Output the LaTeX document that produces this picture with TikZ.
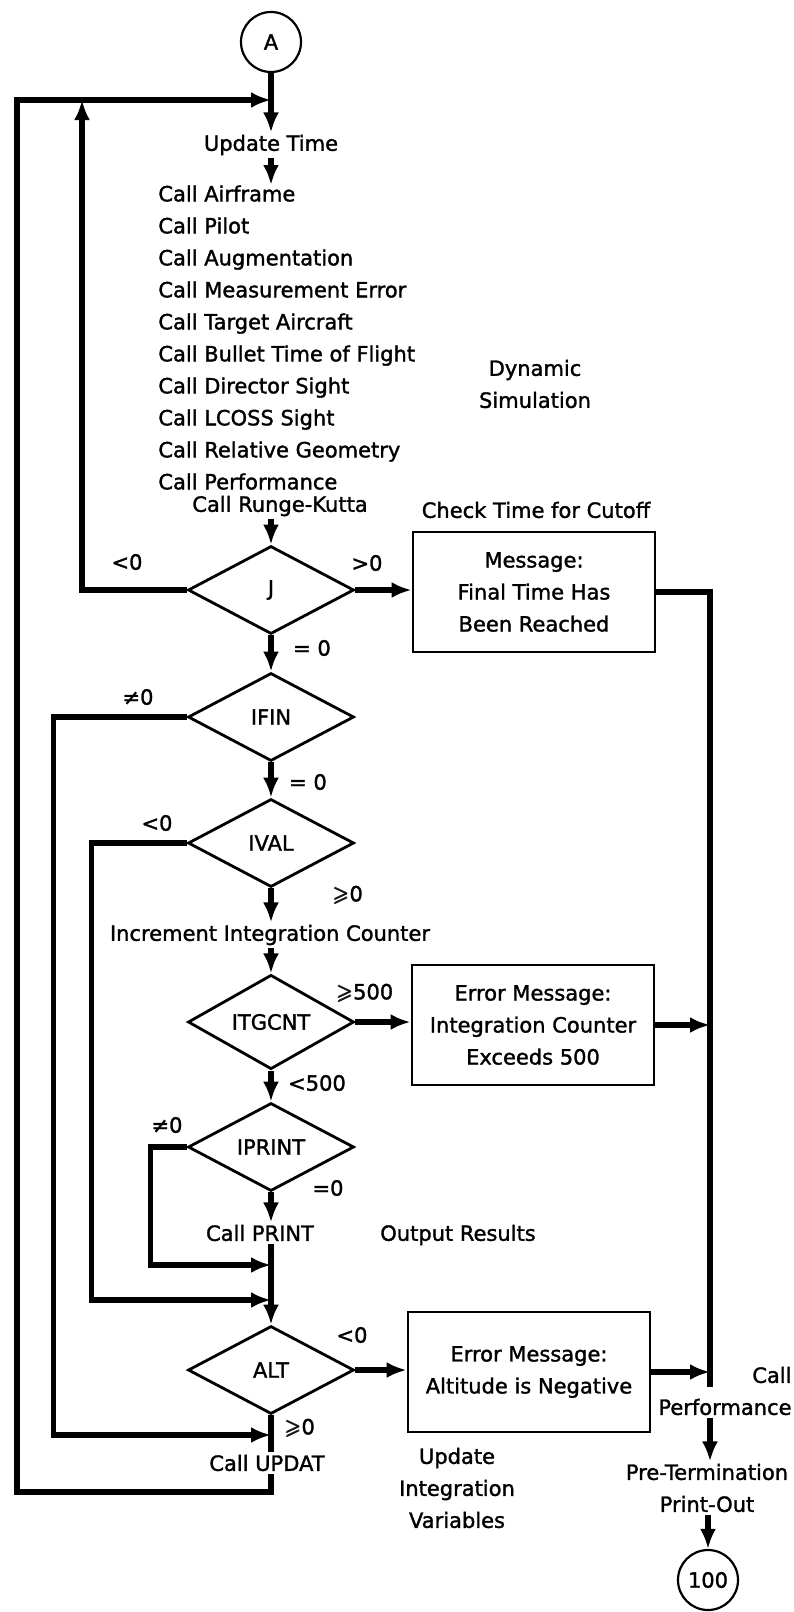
\documentclass[tikz,border=0pt]{standalone}
\usepackage{fontspec}
\setmainfont{DejaVu Sans}[UprightFeatures={FakeBold=1.5}]
\usepackage{amssymb}
\usepackage{amsmath}
\usetikzlibrary{shapes.geometric,arrows.meta}
\tikzset{>={Latex[length=10pt,width=8pt]}}
\newcommand{\gsl}{\ensuremath{\pmb{\geqslant}}}

\begin{document}
\begin{tikzpicture}[x=0.5pt,y=-0.5pt,font=\fontsize{10.5}{16}\selectfont]
\useasboundingbox (0,0) rectangle (793,1612);

\coordinate (loopin) at (271,100);
\coordinate (tl) at (82,100);
\coordinate (bl) at (17,1492);
\coordinate (bus) at (710,1387);
\coordinate (m1) at (271,1265);
\coordinate (m2) at (271,1300);
\coordinate (m3) at (271,1435);

\begin{scope}[every node/.style={circle,draw,line width=1.1pt,minimum size=30pt,inner sep=0pt}]
\node (A) at (271,42) {A};
\node (n100) at (708,1580) {100};
\end{scope}

\begin{scope}[every node/.style={diamond,draw,line width=1.4pt,minimum width=83pt,minimum height=44pt,inner sep=0pt}]
\node (J) at (271,590) {J};
\node (IFIN) at (271,717) {IFIN};
\node (IVAL) at (271,843) {IVAL};
\node (ITGCNT) at (271,1022) {ITGCNT};
\node (IPRINT) at (271,1147) {IPRINT};
\node (ALT) at (271,1370) {ALT};
\end{scope}

\begin{scope}[every node/.style={draw,line width=1.4pt,minimum width=121pt,minimum height=60pt,align=center}]
\node (box1) at (534,592) {Message:\\Final Time Has\\Been Reached};
\node (box2) at (533,1025) {Error Message:\\Integration Counter\\Exceeds 500};
\node (box3) at (529,1372) {Error Message:\\Altitude is Negative};
\end{scope}

\begin{scope}[every node/.style={inner sep=1pt,align=center}]
\node (upd) at (271,145) {Update Time};
\node [anchor=north west,align=left,inner sep=0pt] (calls) at (158,185)
  {Call Airframe\\Call Pilot\\Call Augmentation\\Call Measurement Error\\
   Call Target Aircraft\\Call Bullet Time of Flight\\Call Director Sight\\
   Call LCOSS Sight\\Call Relative Geometry\\Call Performance};
\node (rk) at (280,506) {Call Runge-Kutta};
\node (dyn) at (535,384) {Dynamic\\Simulation};
\node (cutoff) at (536,510) {Check Time for Cutoff};
\node (inc) at (270,935) {Increment Integration Counter};
\node (print) at (260,1233) {Call PRINT};
\node (out) at (458,1235) {Output Results};
\node (updat) at (267,1463) {Call UPDAT};
\node (upint) at (457,1488) {Update\\Integration\\Variables};
\node [align=right] (perf) at (725,1391) {Call\\Performance};
\node (pre) at (707,1488) {Pre-Termination\\Print-Out};
\end{scope}

% branch values
\begin{scope}[every node/.style={inner sep=0pt}]
\node (jlt) at (127,562) {<0};
\node (jgt) at (367,563) {>0};
\node (jeq) at (312,648) {= 0};
\node (ifne) at (138,697) {≠0};
\node (ifeq) at (308,782) {= 0};
\node (ivlt) at (157,823) {<0};
\node (ivge) at (348,895) {\gsl0};
\node (itge) at (365,993) {\gsl500};
\node (itlt) at (317,1083) {<500};
\node (ipne) at (167,1125) {≠0};
\node (ipeq) at (328,1188) {=0};
\node (allt) at (352,1335) {<0};
\node (alge) at (300,1428) {\gsl0};
\end{scope}

\begin{scope}[line width=2.6pt,
    every edge/.style={draw=black,line width=2.6pt}]
    \path [->] (A) edge (upd);
    \path [->] (upd) edge (upd |- calls.north);
    \path [->] (J |- rk.south) edge (J);
    \path [->] (J) edge (IFIN);
    \path [->] (IFIN) edge (IVAL);
    \path [->] (IVAL) edge (IVAL |- inc.north);
    \path [->] (ITGCNT |- inc.south) edge (ITGCNT);
    \path [->] (ITGCNT) edge (IPRINT);
    \path [->] (IPRINT) edge (IPRINT |- print.north);
    \path [->] (IPRINT |- print.south) edge (ALT);

    \path [->] (J.east) edge (J.east -| box1.west);
    \path [->] (ITGCNT.east) edge (ITGCNT.east -| box2.west);
    \path [->] (ALT.east) edge (ALT.east -| box3.west);

    \draw (box1.east) -| (bus);
    \path [->] (box2.east) edge (box2.east -| bus);
    \path [->] (box3.east) edge (box3.east -| bus);
    \path [->] (bus |- perf.south) edge (bus |- pre.north);
    \path [->] (n100 |- pre.south) edge (n100);

    %\path [->] (IPRINT) edge [bend right] (ALT);
    \draw [->] (IPRINT.west) -- ++(-36,0) |- (m1);
    \draw [->] (IVAL.west) -- ++(-95,0) |- (m2);
    \draw [->] (IFIN.west) -- ++(-133,0) |- (m3);

    \draw (ALT) -- (ALT |- updat.north);
    \draw [->] (ALT |- updat.south) |- (bl) |- (loopin);
    \draw [->] (J.west) -| (tl);
\end{scope}
\end{tikzpicture}
\end{document}
